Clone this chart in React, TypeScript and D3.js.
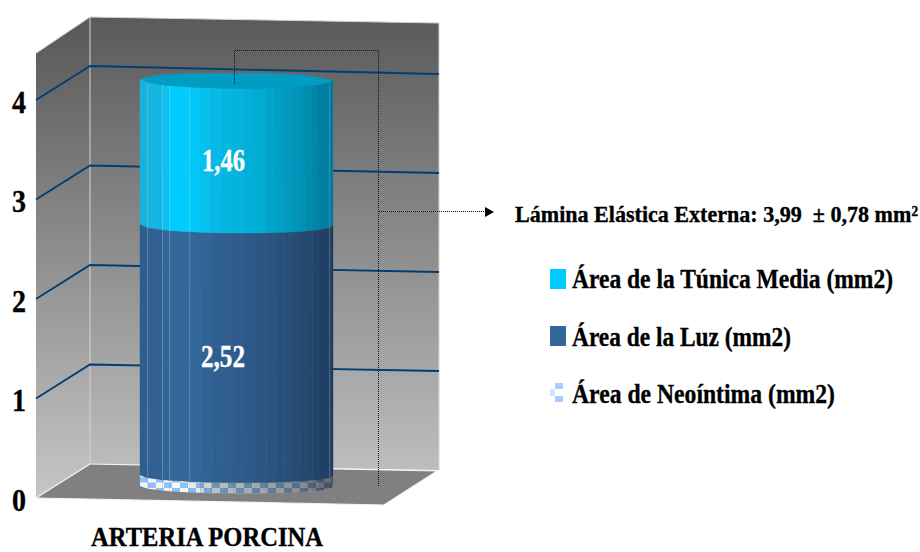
import React from "react";
import * as d3 from "d3";

// Stacked 3D cylinder: artery area composition
const category = "ARTERIA PORCINA";
const seriesKeys = ["neointima", "luz", "media"];
const neointimaValues = [0.11];
const luzValues = [2.52];
const mediaValues = [1.46];
const valueLabels = ["", "2,52", "1,46"];
const axisTicks = [0, 1, 2, 3, 4];
const legendLabels = ["Área de la Túnica Media (mm2)", "Área de la Luz (mm2)", "Área de Neoíntima (mm2)"];
const calloutLabel = "Lámina Elástica Externa: 3,99\u00a0\u00a0± 0,78 mm²";
const facetAngles = [0, 23, 40, 46, 61, 68, 75, 82, 88, 95, 101, 108, 114, 120, 125, 131, 136, 142, 148, 165, 180];
const capBackAngles = [0, 30, 58, 110, 135, 180];

const W = 920;
const H = 552;
const FONT = "'Liberation Serif', 'Times New Roman', serif";

// Room corners
const wallTop = 4.47;
const yBackL = d3.scaleLinear().domain([0, 4]).range([464, 66]);
const yBackR = d3.scaleLinear().domain([0, 4]).range([470, 74]);
const yLeft = d3.scaleLinear().domain([0, 4]).range([498, 100]);
const xLeft = 36;
const xBackL = 90;
const xBackR = 439;

// Cylinder geometry; the ellipse flattens slightly toward the floor
const yCyl = d3.scaleLinear().domain([0, 4]).range([486, 88]);
const cx = 236.5;
const rx = 96.5;
const ryAt = d3.scaleLinear().domain([486, 79]).range([7, 9]);
const ryBack = 7;
const tilt = d3.scaleLinear().domain([140, 333]).range([0, 1]);

const rows = [0].map((i) => ({
  neointima: neointimaValues[i],
  luz: luzValues[i],
  media: mediaValues[i],
}));
const stacked = d3.stack<any>().keys(seriesKeys)(rows);

const mediaShade = d3
  .scaleLinear<string>()
  .domain([140, 163, 170, 190, 215, 260, 300, 333])
  .range(["#17b2dc", "#14b8e4", "#00ccff", "#00ccff", "#08bae6", "#00acd4", "#0093b8", "#00789a"]);
const luzShade = d3
  .scaleLinear<string>()
  .domain([140, 170, 190, 260, 300, 333])
  .range(["#2f5a8c", "#336699", "#336699", "#2c5785", "#264b74", "#1f3c5f"]);
const neoDarken = d3.scaleLinear().domain([140, 190, 215, 300, 333]).range([0, 0, 0.22, 0.42, 0.6]);

const fx = (deg: number) => cx - rx * Math.cos((deg * Math.PI) / 180);
const sin = (deg: number) => Math.sin((deg * Math.PI) / 180);
const edgeY = (deg: number, y: number) => y + ryAt(y) * sin(deg) + tilt(fx(deg));

const facetPath = (a0: number, a1: number, top: number, bottom: number) => {
  const x0 = fx(a0);
  const x1 = fx(a1);
  return `M${x0},${edgeY(a0, top)}L${x1},${edgeY(a1, top)}L${x1},${edgeY(a1, bottom)}L${x0},${edgeY(a0, bottom)}Z`;
};

const capPath = (top: number) => {
  const front = facetAngles.map((a) => [fx(a), edgeY(a, top)] as [number, number]);
  const back = [...capBackAngles]
    .reverse()
    .map((a) => [fx(a), top - ryBack * sin(a) + tilt(fx(a))] as [number, number]);
  return d3.line()([...front, ...back]) + "Z";
};

// Tall, condensed bold serif text: the glyphs are set narrower, then stretched upward
function Label(props: { x: number; y: number; w: number; size: number; fill?: string; children: React.ReactNode }) {
  const k = 0.86;
  const fill = props.fill ?? "#000";
  return (
    <text
      transform={`translate(${props.x},${props.y}) scale(1,${1 / k})`}
      fontFamily={FONT}
      fontWeight="bold"
      fontSize={props.size * k}
      fill={fill}
      stroke={fill}
      strokeWidth={0.3}
      textLength={props.w}
      lengthAdjust="spacingAndGlyphs"
    >
      {props.children}
    </text>
  );
}

export default function App() {
  const facets = facetAngles.slice(1).map((a, i) => [facetAngles[i], a]);
  const [neo, luz, media] = stacked;
  const neoTop = yCyl(neo[0][1]);
  const neoBottom = yCyl(neo[0][0]);
  const luzTop = yCyl(luz[0][1]);
  const mediaTop = yCyl(media[0][1]);
  const legendY = [269, 326, 383];
  const legendBase = [288, 346, 403];
  const legendW = [321, 219, 263];

  return (
    <svg width={W} height={H} viewBox={`0 0 ${W} ${H}`} style={{ position: "absolute", left: 0, top: 0, background: "#fff" }}>
      <defs>
        <linearGradient id="backWall" gradientUnits="userSpaceOnUse" x1="0" y1="17" x2="0" y2="470">
          <stop offset="0" stopColor="#5a5a5a" />
          <stop offset="1" stopColor="#bdbdbd" />
        </linearGradient>
        <linearGradient id="leftWall" gradientUnits="userSpaceOnUse" x1="0" y1="30" x2="0" y2="498">
          <stop offset="0" stopColor="#5a5a5a" />
          <stop offset="1" stopColor="#c6c6c6" />
        </linearGradient>
        <pattern id="checks" patternUnits="userSpaceOnUse" x="140" y="477" width="16" height="11">
          <rect width="16" height="11" fill="#f6f6f6" />
          <rect x="0" y="0" width="8" height="5.5" fill="#8cc2f5" />
          <rect x="8" y="5.5" width="8" height="5.5" fill="#8cc2f5" />
        </pattern>
        <pattern id="legendChecks" patternUnits="userSpaceOnUse" x="550" y="383" width="13" height="13">
          <rect width="13" height="13" fill="#ffffff" />
          <rect x="5" y="0" width="8" height="6" fill="#a6cfff" />
          <rect x="0" y="6" width="5" height="7" fill="#cfe4ff" />
        </pattern>
      </defs>

      {/* Room */}
      <polygon points={`${xBackL},17 ${xBackR},23 ${xBackR},${yBackR(0)} ${xBackL},${yBackL(0)}`} fill="url(#backWall)" />
      <polygon points={`${xLeft},${yLeft(wallTop)} ${xBackL},17 ${xBackL},${yBackL(0)} ${xLeft},${yLeft(0)}`} fill="url(#leftWall)" />
      <polygon points={`${xLeft},${yLeft(0)} ${xBackL},${yBackL(0)} 437,471 384,505`} fill="#808080" />
      <g stroke="#d4d4d4" strokeWidth={1} fill="none">
        <line x1={xBackL} y1={17} x2={xBackL} y2={yBackL(0)} />
        <line x1={xBackR} y1={23} x2={xBackR} y2={yBackR(0)} />
        <line x1={xBackL} y1={17} x2={xBackR} y2={23} />
        <line x1={xLeft} y1={yLeft(wallTop)} x2={xBackL} y2={17} />
      </g>
      <g stroke="#f4f4f4" strokeWidth={1.2} fill="none">
        <line x1={xLeft} y1={yLeft(0)} x2={xBackL} y2={yBackL(0)} />
        <line x1={xBackL} y1={yBackL(0)} x2={xBackR} y2={yBackR(0) + 1} />
        <line x1={437} y1={471} x2={384} y2={505} />
        <line x1={xLeft} y1={yLeft(0)} x2={384} y2={505} />
      </g>

      {/* Gridlines across the left and back walls */}
      <g stroke="#003d73" strokeWidth={1.8} fill="none">
        {axisTicks
          .filter((t) => t > 0)
          .map((t) => (
            <polyline key={t} points={`${xLeft},${yLeft(t)} ${xBackL},${yBackL(t)} ${xBackR},${yBackR(t)}`} />
          ))}
      </g>

      {/* Neointima band */}
      <g>
        {facets.map(([a0, a1]) => (
          <path key={a0} d={facetPath(a0, a1, neoTop, neoBottom)} fill="url(#checks)" />
        ))}
        {facets.map(([a0, a1]) => (
          <path
            key={a0}
            d={facetPath(a0, a1, neoTop, neoBottom)}
            fill="#000"
            fillOpacity={neoDarken((fx(a0) + fx(a1)) / 2)}
          />
        ))}
      </g>

      {/* Lumen and media bands */}
      {facets.map(([a0, a1]) => {
        const shade = luzShade((fx(a0) + fx(a1)) / 2);
        return <path key={a0} d={facetPath(a0, a1, luzTop, neoTop)} fill={shade} stroke={shade} strokeWidth={0.4} />;
      })}
      {facets.map(([a0, a1]) => {
        const shade = mediaShade((fx(a0) + fx(a1)) / 2);
        return <path key={a0} d={facetPath(a0, a1, mediaTop, luzTop)} fill={shade} stroke={shade} strokeWidth={0.4} />;
      })}
      <path d={capPath(mediaTop)} fill="#009cc2" />

      {/* Facet highlights along the left side of the cylinder */}
      <g stroke="#ffffff" strokeOpacity={0.22} strokeWidth={1}>
        {[23, 40, 46, 61, 165].map((a) => (
          <line key={a} x1={fx(a)} x2={fx(a)} y1={edgeY(a, mediaTop)} y2={edgeY(a, neoTop)} />
        ))}
      </g>

      {/* Callout for the external elastic lamina */}
      <g stroke="#111" strokeWidth={1} strokeDasharray="1 1" fill="none" shapeRendering="crispEdges">
        <polyline points="234.5,84 234.5,50.5 378.5,50.5 378.5,486" />
        <line x1={378.5} y1={211.5} x2={486} y2={211.5} />
      </g>
      <path d="M485,207L494,212L485,217Z" fill="#000" />
      <Label x={515} y={222} w={403} size={23}>{calloutLabel}</Label>

      {/* Value labels */}
      <Label x={202} y={171} w={43} size={32} fill="#fff">{valueLabels[2]}</Label>
      <Label x={201} y={367} w={44} size={32} fill="#fff">{valueLabels[1]}</Label>

      {/* Axis tick labels */}
      {axisTicks.map((t) => (
        <Label key={t} x={12} y={yLeft(t) + 12.5} w={14} size={32}>
          {String(t)}
        </Label>
      ))}
      <Label x={91} y={546} w={232} size={28}>{category}</Label>

      {/* Legend */}
      <rect x={550} y={legendY[0]} width={16} height={20} fill="#00ccff" />
      <rect x={550} y={legendY[1]} width={16} height={20} fill="#336699" />
      <rect x={550} y={legendY[2]} width={13} height={19} fill="url(#legendChecks)" />
      {legendLabels.map((label, i) => (
        <Label key={label} x={572} y={legendBase[i]} w={legendW[i]} size={27}>
          {label}
        </Label>
      ))}
    </svg>
  );
}
